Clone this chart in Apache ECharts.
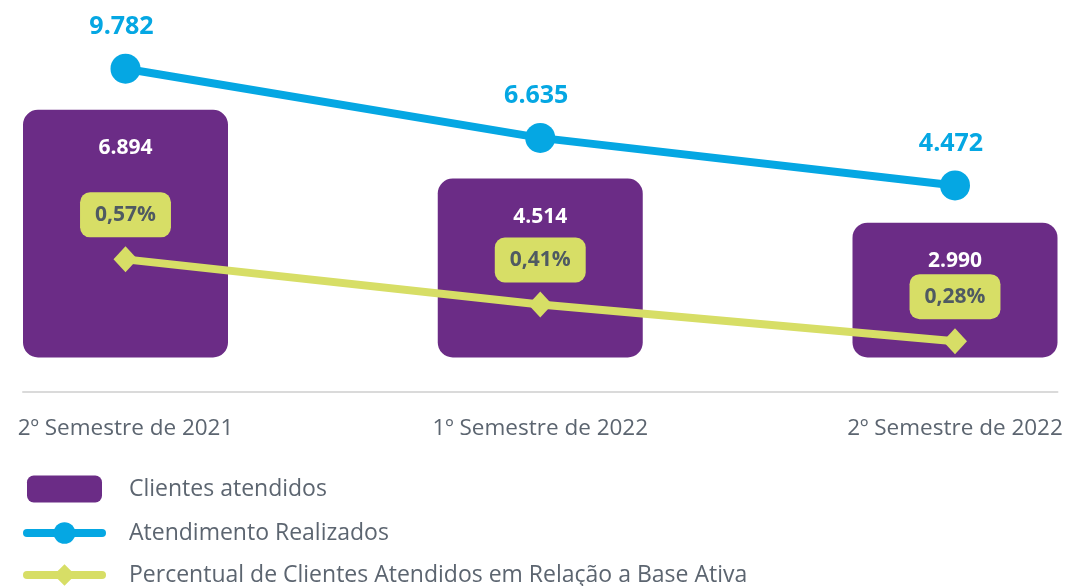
<!DOCTYPE html>
<html>
<head>
<meta charset="utf-8">
<script src="https://cdn.jsdelivr.net/npm/echarts@6/dist/echarts.min.js"></script>
<style>
  html, body { margin: 0; padding: 0; background: #ffffff; }
  #chart { width: 1065px; height: 586px; }
</style>
</head>
<body>
<div id="chart"></div>
<script>
const CATEGORIES = ['2º Semestre de 2021', '1º Semestre de 2022', '2º Semestre de 2022'];
const CLIENTES = [6894, 4514, 2990];
const ATENDIMENTOS = [9782, 6635, 4472];
const PERCENTUAL = [0.57, 0.41, 0.28];
const SERIES_NAMES = ['Clientes atendidos', 'Atendimento Realizados', 'Percentual de Clientes Atendidos em Relação a Base Ativa'];

// visual floor under the bars (the bars in the original extend below the value zero)
const BAR_FLOOR = 1674;

const FONT = "'Open Sans', sans-serif";
const PURPLE = '#6B2C86';
const BLUE = '#05A7E3';
const GREEN = '#D7DE66';
const GRAY = '#5C6570';

const fmtInt = v => String(v).replace(/\B(?=(\d{3})+(?!\d))/g, '.');
const fmtPct = v => v.toFixed(2).replace('.', ',') + '%';

const chart = echarts.init(document.getElementById('chart'), null, { renderer: 'canvas' });

chart.setOption({
  animation: false,
  backgroundColor: '#ffffff',
  textStyle: { fontFamily: FONT },
  grid: [
    { left: 125.5, right: 110, top: 20, bottom: 228.5, containLabel: false, outerBoundsMode: 'none' },
    { left: 23, right: 7.5, top: 20, bottom: 228.5, containLabel: false, outerBoundsMode: 'none' }
  ],
  legend: {
    orient: 'vertical',
    left: 23,
    top: 475.5,
    padding: 0,
    itemWidth: 75,
    itemHeight: 27,
    itemGap: 19,
    selectedMode: false,
    data: [
      { name: SERIES_NAMES[0], icon: 'roundRect' },
      { name: SERIES_NAMES[1], lineStyle: { width: 8, cap: 'round', color: BLUE } },
      { name: SERIES_NAMES[2], lineStyle: { width: 8, cap: 'round', color: GREEN } }
    ],
    textStyle: { color: GRAY, fontSize: 23, fontFamily: FONT, padding: [0, 0, 0, 22] }
  },
  xAxis: [
    {
      type: 'category',
      gridIndex: 0,
      data: CATEGORIES,
      boundaryGap: false,
      offset: 34,
      splitLine: { show: false },
      axisTick: { show: false },
      axisLine: { show: false, onZero: false },
      axisLabel: {
        interval: 0,
        color: GRAY,
        fontSize: 22.5,
        fontFamily: FONT,
        margin: 25.5
      }
    },
    {
      type: 'value',
      gridIndex: 1,
      min: 0,
      max: 1,
      offset: 34,
      splitLine: { show: false },
      axisTick: { show: false },
      axisLabel: { show: false },
      axisLine: { show: true, onZero: false, lineStyle: { color: '#DADADA', width: 2 } }
    }
  ],
  yAxis: [
    { type: 'value', gridIndex: 0, show: false, min: 0, max: 11673, splitLine: { show: false } },
    { type: 'value', gridIndex: 0, show: false, min: -3353, max: 11996, splitLine: { show: false } },
    { type: 'value', gridIndex: 0, show: false, min: 0.222, max: 1.4188, splitLine: { show: false } },
    { type: 'value', gridIndex: 1, show: false, min: 0, max: 1, splitLine: { show: false } }
  ],
  series: [
    {
      name: SERIES_NAMES[0],
      type: 'bar',
      xAxisIndex: 0,
      yAxisIndex: 0,
      barWidth: 205,
      clip: false,
      itemStyle: { color: PURPLE, borderRadius: 15 },
      label: {
        show: true,
        position: 'insideTop',
        distance: 28,
        color: '#ffffff',
        fontWeight: 'bold',
        fontSize: 21,
        lineHeight: 21,
        fontFamily: FONT,
        formatter: p => fmtInt(CLIENTES[p.dataIndex])
      },
      data: CLIENTES.map(v => v + BAR_FLOOR)
    },
    {
      name: SERIES_NAMES[1],
      type: 'line',
      xAxisIndex: 0,
      yAxisIndex: 1,
      clip: false,
      symbol: 'circle',
      symbolSize: 30,
      lineStyle: { color: BLUE, width: 8, cap: 'round' },
      itemStyle: { color: BLUE },
      label: {
        show: true,
        position: 'top',
        distance: 14,
        offset: [-4, 0],
        color: BLUE,
        fontWeight: 'bold',
        fontSize: 25,
        lineHeight: 26,
        fontFamily: FONT,
        formatter: p => fmtInt(p.value)
      },
      data: ATENDIMENTOS
    },
    {
      name: SERIES_NAMES[2],
      type: 'line',
      xAxisIndex: 0,
      yAxisIndex: 2,
      clip: false,
      symbol: 'diamond',
      symbolSize: [24, 26],
      lineStyle: { color: GREEN, width: 8, cap: 'round' },
      itemStyle: { color: GREEN },
      label: {
        show: true,
        position: 'top',
        distance: 9,
        color: '#4F5A62',
        fontWeight: 'bold',
        fontSize: 21,
        lineHeight: 21,
        fontFamily: FONT,
        backgroundColor: GREEN,
        borderRadius: 10,
        padding: [12, 15],
        formatter: p => fmtPct(p.value)
      },
      data: PERCENTUAL
    }
  ]
});
</script>
</body>
</html>
